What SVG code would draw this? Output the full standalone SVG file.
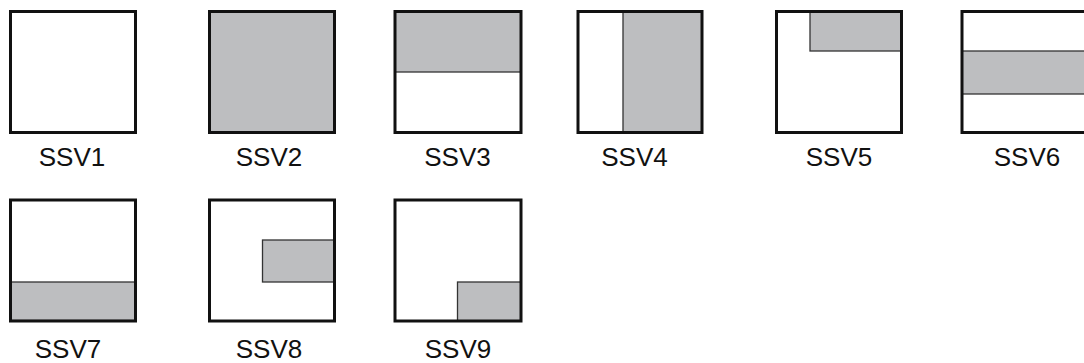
<svg xmlns="http://www.w3.org/2000/svg" width="1084" height="363" viewBox="0 0 1084 363">
<style>
.box{fill:none;stroke:#111;stroke-width:3}
.g{fill:#bdbec0;stroke:#333;stroke-width:1.3}
.lbl{font-family:"Liberation Sans",Arial,sans-serif;font-size:26px;fill:#111;text-anchor:middle}
</style>
<rect x="0" y="0" width="1084" height="363" fill="#fff"/>
<g id="ssv1">
<rect class="box" x="10.5" y="11.5" width="125" height="121"/>
<text class="lbl" x="72" y="166">SSV1</text>
</g>
<g id="ssv2">
<rect class="g" x="209.5" y="11.5" width="125" height="121"/>
<rect class="box" x="209.5" y="11.5" width="125" height="121"/>
<text class="lbl" x="269" y="166">SSV2</text>
</g>
<g id="ssv3">
<rect class="g" x="395" y="11.5" width="126" height="60.5"/>
<rect class="box" x="395" y="11.5" width="126" height="121"/>
<text class="lbl" x="457.5" y="166">SSV3</text>
</g>
<g id="ssv4">
<rect class="g" x="623" y="11.5" width="79" height="121"/>
<rect class="box" x="578" y="11.5" width="124" height="121"/>
<text class="lbl" x="634.5" y="166">SSV4</text>
</g>
<g id="ssv5">
<rect class="g" x="810" y="11.5" width="91.5" height="39.5"/>
<rect class="box" x="776.5" y="11.5" width="125" height="121"/>
<text class="lbl" x="839" y="166">SSV5</text>
</g>
<g id="ssv6">
<rect class="g" x="962" y="51" width="130" height="43"/>
<rect class="box" x="962" y="11.5" width="130" height="121"/>
<text class="lbl" x="1027" y="166">SSV6</text>
</g>
<g id="ssv7">
<rect class="g" x="10.5" y="282" width="125" height="38.5"/>
<rect class="box" x="10.5" y="200" width="125" height="121"/>
<text class="lbl" x="68" y="358">SSV7</text>
</g>
<g id="ssv8">
<rect class="g" x="262.5" y="240" width="72" height="42"/>
<rect class="box" x="209.5" y="200" width="125" height="121"/>
<text class="lbl" x="269" y="358">SSV8</text>
</g>
<g id="ssv9">
<rect class="g" x="457.5" y="282" width="63.5" height="39"/>
<rect class="box" x="395" y="200" width="126" height="121"/>
<text class="lbl" x="458" y="358">SSV9</text>
</g>
<g id="connectors"/>
</svg>
